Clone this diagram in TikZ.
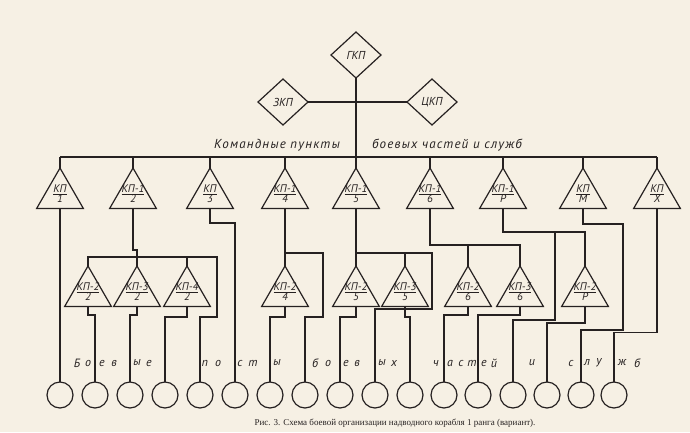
\documentclass[tikz,border=0pt]{standalone}
\usepackage{fontspec}
\setmainfont{Liberation Serif}
\newfontfamily\kpfont{PT Sans}
\newfontfamily\spacedfont{PT Sans}[LetterSpace=9]
\usepackage{tikz}
\usetikzlibrary{shapes.geometric, calc}
\definecolor{mypaper}{RGB}{246,240,228}
\definecolor{myink}{RGB}{38,33,33}
\tikzset{
  cmd/.style={diamond, draw=myink, line width=1.2pt, minimum width=50pt,
    minimum height=46pt, inner sep=0pt, outer sep=0pt, text=myink,
    font=\kpfont\itshape\fontsize{11.5}{12}\selectfont},
  kp/.style={regular polygon, regular polygon sides=3, draw=myink,
    line width=1.2pt, minimum size=54pt, inner sep=0pt, outer sep=0pt,
    label={[kptext]center:#1}},
  kptext/.style={align=center, inner sep=0pt, text=myink, yshift=1pt,
    font=\kpfont\itshape\fontsize{11}{10}\selectfont},
  post/.style={circle, draw=myink, line width=1.2pt, minimum size=26pt,
    inner sep=0pt, outer sep=0pt},
  title/.style={font=\spacedfont\itshape\fontsize{13}{15}\selectfont,
    text=myink, inner sep=0pt},
  letter/.style={font=\kpfont\itshape\fontsize{12}{14}\selectfont,
    text=myink, inner sep=0pt},
  caption/.style={font=\fontsize{9}{10}\selectfont, text=myink, inner sep=0pt},
  wire/.style={line width=1.2pt, color=myink}
}

\begin{document}
\begin{tikzpicture}[x=1pt, y=-1pt]
  \fill[mypaper] (0,0) rectangle (690,432);
  \useasboundingbox (0,0) rectangle (690,432);
  % command posts
  \node[cmd] (gkp) at (356,55) {ГКП};
  \node[cmd] (zkp) at (283,102) {ЗКП};
  \node[cmd] (ckp) at (432,102) {ЦКП};
  \coordinate (busL) at (60,157);
  \coordinate (busR) at (657,157);
  \draw[wire] (zkp.east) -- (ckp.west);
  \draw[wire] (gkp.south) -- (gkp.south |- busL);
  \draw[wire] (busL) -- (busR);
  \node[title] (tl) at (277,145) {Командные пункты};
  \node[title] (tr) at (447,145) {боевых частей и служб};
  % first level
  \node[kp={\underline{КП}\\1}]   (kp1)  at (60,195)  {};
  \node[kp={\underline{КП-1}\\2}] (kp12) at (133,195) {};
  \node[kp={\underline{КП}\\3}]   (kp3)  at (210,195) {};
  \node[kp={\underline{КП-1}\\4}] (kp14) at (285,195) {};
  \node[kp={\underline{КП-1}\\5}] (kp15) at (356,195) {};
  \node[kp={\underline{КП-1}\\6}] (kp16) at (430,195) {};
  \node[kp={\underline{КП-1}\\Р}] (kp1r) at (503,195) {};
  \node[kp={\underline{КП}\\М}]   (kpm)  at (583,195) {};
  \node[kp={\underline{КП}\\Х}]   (kpx)  at (657,195) {};
  \foreach \n in {kp1,kp12,kp3,kp14,kp15,kp16,kp1r,kpm,kpx}
    \draw[wire] (\n.north) -- (\n.north |- busL);
  % second level
  \node[kp={\underline{КП-2}\\2}] (kp22) at (88,293)  {};
  \node[kp={\underline{КП-3}\\2}] (kp32) at (137,293) {};
  \node[kp={\underline{КП-4}\\2}] (kp42) at (187,293) {};
  \node[kp={\underline{КП-2}\\4}] (kp24) at (285,293) {};
  \node[kp={\underline{КП-2}\\5}] (kp25) at (356,293) {};
  \node[kp={\underline{КП-3}\\5}] (kp35) at (405,293) {};
  \node[kp={\underline{КП-2}\\6}] (kp26) at (468,293) {};
  \node[kp={\underline{КП-3}\\6}] (kp36) at (520,293) {};
  \node[kp={\underline{КП-2}\\Р}] (kp2r) at (585,293) {};
  % battle posts
  \foreach \x [count=\i] in {60,95,130,165,200,235,270,305,340,375,410,444,478,513,547,581,614}
    \node[post] (c\i) at (\x,395) {};
  \foreach \x/\ch in {77/Б,88/о,102/е,114/в,137/ы,149/е,
                      205/п,218/о,240/с,253/т,277/ы,
                      315/б,328/о,346/е,357/в,382/ы,394/х,
                      436/ч,450/а,461/с,472/т,484/е,494/й,
                      532/и,571/с,587/л,599/у,622/ж,637/б}
    \node[letter] (w\x) at (\x,363) {\ch};
  % wiring, part 2
  \coordinate (b2) at (217,257);
  \draw[wire] (kp1.south) -- (c1.north);
  \draw[wire] (kp12.south) -- ++(0,41.5) -| (kp32.north);
  \draw[wire] (kp22.north) |- (b2) -- ++(0,60) -| (c5.north);
  \draw[wire] (kp42.north) -- (kp42.north |- b2);
  \draw[wire] (kp22.south) -- ++(0,8.5) -| (c2.north);
  \draw[wire] (kp32.south) -- ++(0,8.5) -| (c3.north);
  \draw[wire] (kp42.south) -- ++(0,10.5) -| (c4.north);
  \draw[wire] (kp3.south) -- ++(0,14.5) -| (c6.north);
  % part 4
  \coordinate (b4) at (323,253);
  \draw[wire] (kp14.south) |- (b4) -- ++(0,64) -| (c8.north);
  \draw[wire] (kp24.north) -- (kp24.north |- b4);
  \draw[wire] (kp24.south) -- ++(0,10.5) -| (c7.north);
  % part 5
  \coordinate (b5) at (432,253);
  \draw[wire] (kp15.south) |- (b5) -- ++(0,56) -| (c10.north);
  \draw[wire] (kp25.north) -- (kp25.north |- b5);
  \draw[wire] (kp35.north) -- (kp35.north |- b5);
  \draw[wire] (kp25.south) -- ++(0,10.5) -| (c9.north);
  \draw[wire] (kp35.south) -- ++(0,10.5) -| (c11.north);
  % part 6
  \coordinate (b6) at (520,245);
  \draw[wire] (kp16.south) |- (b6) -- (kp36.north);
  \draw[wire] (kp26.north) -- (kp26.north |- b6);
  \draw[wire] (kp26.south) -- ++(0,8.5) -| (c12.north);
  \draw[wire] (kp36.south) -- ++(0,8.5) -| (c13.north);
  % part R, M, X
  \coordinate (br) at (555,232);
  \draw[wire] (kp1r.south) |- (kp2r.north |- br) -- (kp2r.north);
  \draw[wire] (br) -- ++(0,88) -| (c14.north);
  \draw[wire] (kp2r.south) -- ++(0,16.5) -| (c15.north);
  \draw[wire] (kpm.south) -- ++(0,15.5) -| ++(40,106) -| (c16.north);
  \draw[wire] (kpx.south) -- ++(0,124) -| (c17.north);
  % caption
  \node[caption] (cap) at (395,423)
    {Рис. 3. Схема боевой организации надводного корабля 1 ранга (вариант).};
\end{tikzpicture}
\end{document}
